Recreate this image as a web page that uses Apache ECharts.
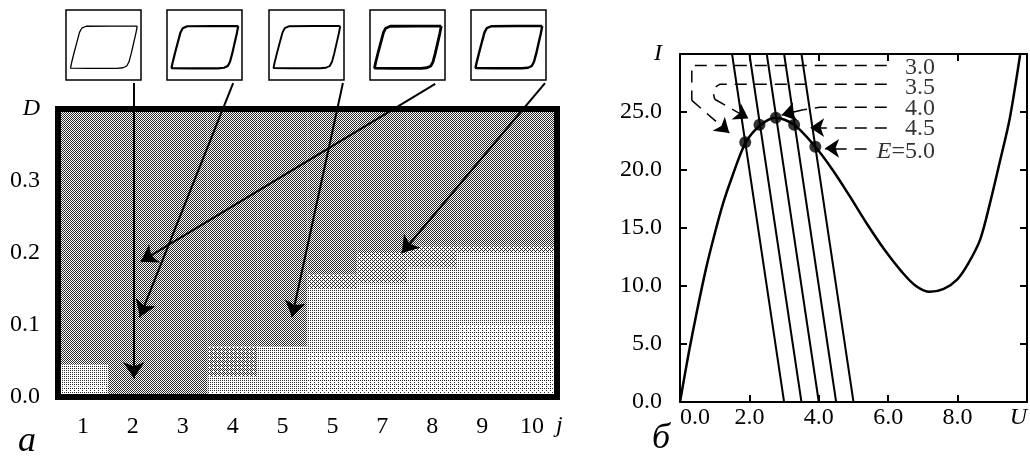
<!DOCTYPE html>
<html>
<head>
<meta charset="utf-8">
<script src="https://cdn.jsdelivr.net/npm/echarts@6/dist/echarts.min.js"></script>
<style>
html,body{margin:0;padding:0;background:#fff;}
#chart{width:1030px;height:462px;}
</style>
</head>
<body>
<div id="chart"></div>
<script>
// ---------- panel a : D vs j ----------
var jLabels = ['1', '2', '3', '4', '5', '5', '7', '8', '9', '10'];
// band edges (D) for every column, bottom to top
var bandEdges = [
  [0, 0.015, 0.045, 0.4],
  [0, 0.4],
  [0, 0.4],
  [0, 0.007, 0.028, 0.07, 0.4],
  [0, 0.007, 0.07, 0.4],
  [0, 0.007, 0.06, 0.15, 0.17, 0.4],
  [0, 0.007, 0.06, 0.158, 0.2, 0.4],
  [0, 0.007, 0.08, 0.18, 0.21, 0.4],
  [0, 0.007, 0.1, 0.2, 0.21, 0.4],
  [0, 0.007, 0.1, 0.2, 0.21, 0.4]
];
// shade index of every band
var bandShade = [
  [4, 3, 0],
  [0],
  [0],
  [5, 3, 1, 0],
  [5, 3, 0],
  [5, 4, 3, 2, 0],
  [5, 4, 3, 2, 0],
  [5, 4, 3, 2, 0],
  [5, 4, 3, 2, 0],
  [5, 4, 3, 2, 0]
];
// share of dark dots in every shade (printed as a dither)
var shadeInk = [0.5, 0.42, 0.32, 0.22, 0.14, 0.04];

// arrows from the loop insets into the map (j position 0..10, D)
var arrowFromJ = [1.52, 3.51, 5.71, 7.56, 9.76];
var arrowFromD = [0.436, 0.436, 0.436, 0.435, 0.436];
var arrowToJ = [1.52, 1.64, 4.69, 1.66, 6.89];
var arrowToD = [0.026, 0.111, 0.111, 0.188, 0.2];

// hysteresis loop drawn in every inset (normalised)
var loopX = [0.95, 0.6, 0.27, 0.21, 0.18, 0.15, 0.11, 0.075, 0.06, 0.3, 0.68, 0.76, 0.81, 0.84, 0.87, 0.9, 0.93, 0.95];
var loopY = [0.771, 0.771, 0.768, 0.74, 0.68, 0.56, 0.40, 0.25, 0.17, 0.167, 0.167, 0.175, 0.2, 0.26, 0.38, 0.52, 0.66, 0.771];
var loopWidth = [1.3, 2.2, 1.9, 2.8, 2.4];

// ---------- panel б : I(U) ----------
var curveU = [0, 0.25, 0.5, 0.75, 1.0, 1.25, 1.5, 1.88, 2.29, 2.76, 3.29, 3.9, 4.4, 4.9, 5.4, 5.9, 6.4, 6.8, 7.2, 7.6, 8.0, 8.3, 8.65, 8.93, 9.2, 9.5, 9.8];
var curveI = [0, 4.2, 8.0, 11.5, 14.5, 17.2, 19.4, 22.3, 23.8, 24.5, 23.9, 22.0, 20.0, 17.7, 15.3, 13.1, 11.2, 10.0, 9.5, 9.75, 10.6, 11.9, 14.0, 17.1, 20.5, 24.4, 29.9];
var loadE = [3.0, 3.5, 4.0, 4.5, 5.0];
var loadTopU = [1.5, 2.0, 2.5, 3.0, 3.5];
var dotU = [1.88, 2.29, 2.76, 3.29, 3.9];
var dotI = [22.4, 23.9, 24.5, 23.9, 22.0];
var eLabels = ['3.0', '3.5', '4.0', '4.5', '{i|E}=5.0'];
var eLabelI = [28.8, 27.1, 25.3, 23.6, 21.6];
// dashed leaders (no arrow) and their arrow ends
var leaderPaths = [
  [[5.96, 29.0], [0.34, 29.0], [0.34, 26.0]],
  [[5.96, 27.4], [1.15, 27.4], [1.0, 27.1], [0.96, 26.6], [1.0, 26.1]],
  [[5.96, 25.4], [4.03, 25.4], [3.55, 25.2]]
];
var leaderArrows = [
  [[0.34, 26.0], [1.42, 23.2]],
  [[1.0, 26.1], [1.97, 24.45]],
  [[3.55, 25.2], [2.93, 24.74]],
  [[5.96, 23.65], [3.75, 23.65]],
  [[5.38, 21.87], [4.18, 21.87]]
];

var FONT = 'Liberation Serif';
var chart = echarts.init(document.getElementById('chart'));

// ordered dither tiles for the shades
var bayer = [[0, 8, 2, 10], [12, 4, 14, 6], [3, 11, 1, 9], [15, 7, 13, 5]];
var shadeFill = shadeInk.map(function (ink) {
  var cv = document.createElement('canvas');
  cv.width = 4; cv.height = 4;
  var ctx = cv.getContext('2d');
  ctx.fillStyle = '#fff';
  ctx.fillRect(0, 0, 4, 4);
  ctx.fillStyle = '#2a2a2a';
  for (var y = 0; y < 4; y++) {
    for (var x = 0; x < 4; x++) {
      if (bayer[y][x] < ink * 16) ctx.fillRect(x, y, 1, 1);
    }
  }
  return {image: cv, repeat: 'repeat'};
});

var bands = [];
bandEdges.forEach(function (edges, c) {
  for (var k = 0; k < edges.length - 1; k++) {
    bands.push([c, edges[k], edges[k + 1], bandShade[c][k]]);
  }
});

var insetLeft = [66, 167, 269, 370, 471];
var grids = [
  {left: 58, top: 109, width: 499, height: 288},
  {left: 680, top: 54, width: 347, height: 348}
];
insetLeft.forEach(function (l) {
  grids.push({left: l, top: 10, width: 75, height: 70, show: true, borderColor: '#000', borderWidth: 1.5});
});

var labelStyle = {color: '#000', fontFamily: FONT, fontSize: 24};
var italic = {i: {fontStyle: 'italic', fontFamily: FONT, fontSize: 24, color: '#000'}};
var thick = {show: true, onZero: false, lineStyle: {color: '#000', width: 6, cap: 'square'}};
var thin = {color: '#000', width: 2};
var thinLine = {show: true, onZero: false, lineStyle: thin};

var xAxes = [
  {gridIndex: 0, type: 'category', data: jLabels, position: 'bottom', z: 10,
    axisLine: thick, axisTick: {show: false},
    axisLabel: Object.assign({margin: 18, interval: 0}, labelStyle)},
  {gridIndex: 0, type: 'value', min: 0, max: 10, position: 'top', z: 10,
    axisLine: thick, axisTick: {show: false}, axisLabel: {show: false}, splitLine: {show: false}},
  {gridIndex: 1, type: 'value', min: 0, max: 10, interval: 2, position: 'bottom',
    axisLine: thinLine,
    axisTick: {show: true, inside: true, length: 7, lineStyle: thin},
    axisLabel: Object.assign({margin: 4, alignMinLabel: 'left', alignMaxLabel: 'right', rich: italic,
      formatter: function (v) { return v === 10 ? '{i|U}' : v.toFixed(1); }}, labelStyle),
    splitLine: {show: false}},
  {gridIndex: 1, type: 'value', min: 0, max: 10, interval: 2, position: 'top',
    axisLine: thinLine,
    axisTick: {show: true, inside: true, length: 7, lineStyle: thin},
    axisLabel: {show: false}, splitLine: {show: false}}
];
var yAxes = [
  {gridIndex: 0, type: 'value', min: 0, max: 0.4, interval: 0.1, position: 'left', z: 10,
    axisLine: thick, axisTick: {show: false}, splitLine: {show: false},
    axisLabel: Object.assign({margin: 18, rich: italic,
      formatter: function (v) { return v > 0.39 ? '{i|D}' : v.toFixed(1); }}, labelStyle)},
  {gridIndex: 0, type: 'value', min: 0, max: 0.4, position: 'right', z: 10,
    axisLine: thick, axisTick: {show: false}, axisLabel: {show: false}, splitLine: {show: false}},
  {gridIndex: 1, type: 'value', min: 0, max: 30, interval: 5, position: 'left',
    axisLine: thinLine,
    axisTick: {show: true, inside: true, length: 7, lineStyle: thin}, splitLine: {show: false},
    axisLabel: Object.assign({margin: 18, rich: italic,
      formatter: function (v) { return v === 30 ? '{i|I}' : v.toFixed(1); }}, labelStyle)},
  {gridIndex: 1, type: 'value', min: 0, max: 30, interval: 5, position: 'right',
    axisLine: thinLine,
    axisTick: {show: true, inside: true, length: 7, lineStyle: thin},
    axisLabel: {show: false}, splitLine: {show: false}}
];
insetLeft.forEach(function (l, k) {
  xAxes.push({gridIndex: k + 2, type: 'value', min: 0, max: 1, show: false});
  yAxes.push({gridIndex: k + 2, type: 'value', min: 0, max: 1, show: false});
});

var series = [];

// shaded map
series.push({
  type: 'custom', xAxisIndex: 1, yAxisIndex: 0, z: 1, silent: true,
  data: bands,
  encode: {x: 0, y: [1, 2]},
  renderItem: function (params, api) {
    var c = api.value(0);
    var p0 = api.coord([c, api.value(2)]);
    var p1 = api.coord([c + 1, api.value(1)]);
    return {type: 'rect', shape: {x: p0[0], y: p0[1], width: p1[0] - p0[0], height: p1[1] - p0[1]},
      style: {fill: shadeFill[api.value(3)]}};
  }
});

// arrows of panel a
series.push({
  type: 'lines', coordinateSystem: 'cartesian2d', xAxisIndex: 1, yAxisIndex: 0, z: 5, clip: false,
  symbol: ['none', 'arrow'], symbolSize: [8, 16],
  lineStyle: {color: '#000', width: 2, opacity: 1},
  data: arrowFromJ.map(function (u, k) {
    return {coords: [[u, arrowFromD[k]], [arrowToJ[k], arrowToD[k]]]};
  })
});

// insets (axes 4..8)
insetLeft.forEach(function (l, k) {
  series.push({
    type: 'line', xAxisIndex: k + 4, yAxisIndex: k + 4, showSymbol: false,
    lineStyle: {color: '#000', width: loopWidth[k]},
    data: loopX.map(function (x, n) { return [x, loopY[n]]; })
  });
});

// panel b curve
series.push({
  type: 'line', xAxisIndex: 2, yAxisIndex: 2, showSymbol: false, smooth: 0.3,
  lineStyle: {color: '#000', width: 2.5},
  data: curveU.map(function (u, n) { return [u, curveI[n]]; })
});
loadE.forEach(function (e, k) {
  series.push({
    type: 'line', xAxisIndex: 2, yAxisIndex: 2, showSymbol: false,
    lineStyle: {color: '#000', width: 2},
    data: [[e, 0], [loadTopU[k], 30]]
  });
});
series.push({
  type: 'scatter', xAxisIndex: 2, yAxisIndex: 2, z: 6, symbolSize: 12,
  itemStyle: {color: '#000'},
  data: dotU.map(function (u, n) { return [u, dotI[n]]; })
});
series.push({
  type: 'lines', coordinateSystem: 'cartesian2d', xAxisIndex: 2, yAxisIndex: 2, polyline: true, z: 4,
  lineStyle: {color: '#000', width: 1.5, type: [12, 8], opacity: 1},
  data: leaderPaths.map(function (p) { return {coords: p}; })
});
series.push({
  type: 'lines', coordinateSystem: 'cartesian2d', xAxisIndex: 2, yAxisIndex: 2, z: 4,
  symbol: ['none', 'arrow'], symbolSize: [8, 14],
  lineStyle: {color: '#000', width: 1.5, type: [12, 8], opacity: 1},
  data: leaderArrows.map(function (p) { return {coords: p}; })
});
series.push({
  type: 'scatter', xAxisIndex: 2, yAxisIndex: 2, symbolSize: 0, z: 7,
  label: {show: true, position: 'left', distance: 0, color: '#000', fontFamily: FONT, fontSize: 24,
    rich: italic, formatter: function (p) { return p.value[2]; }},
  data: eLabels.map(function (t, n) { return [7.35, eLabelI[n], t]; })
});

var option = {
  animation: false,
  backgroundColor: '#fff',
  grid: grids,
  xAxis: xAxes,
  yAxis: yAxes,
  series: series,
  graphic: [
    {type: 'text', left: 556, top: 414, style: {text: 'j', fontFamily: FONT, fontSize: 24, fontStyle: 'italic', fill: '#000'}},
    {type: 'text', left: 18, top: 424, style: {text: 'а', fontFamily: FONT, fontSize: 36, fontStyle: 'italic', fill: '#000'}},
    {type: 'text', left: 652, top: 421, style: {text: 'б', fontFamily: FONT, fontSize: 36, fontStyle: 'italic', fill: '#000'}}
  ]
};
chart.setOption(option);
</script>
</body>
</html>
